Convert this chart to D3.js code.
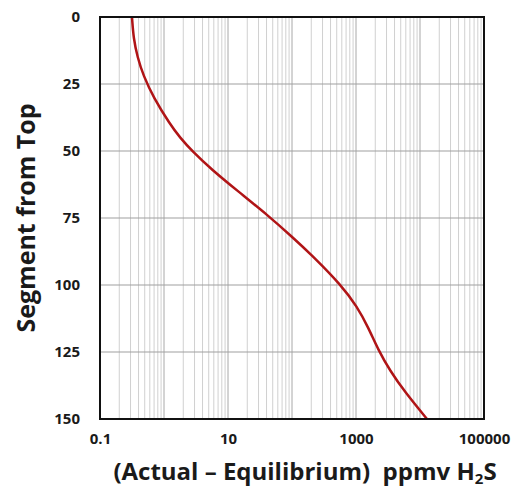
<!DOCTYPE html>
<html>
<head>
<meta charset="utf-8">
<script src="https://cdn.jsdelivr.net/npm/d3@7"></script>
<style>
    body { margin: 0; background: #fff; }
    text { font-family: "Open Sans", Lato, sans-serif; font-weight: bold; fill: #1a1a1a; }
</style>
</head>
<body>
<svg width="527" height="489"></svg>
<script>
var segments = [0, 8, 15, 22, 30, 40, 45, 50, 57, 65, 74, 82, 90, 100, 108, 116, 124, 132, 140, 150];
var ppmv = [0.316, 0.334, 0.385, 0.478, 0.685, 1.24, 1.78, 2.74, 5.6, 14.3, 42, 100, 229, 583, 1037, 1567, 2205, 3400, 5830, 12850];
var xTicks = [0.1, 10, 1000, 100000];
var yTicks = [0, 25, 50, 75, 100, 125, 150];

var svg = d3.select("svg");
var pLeft = 100, pRight = 484, pTop = 17, pBottom = 419;

var x = d3.scaleLog().domain([0.1, 100000]).range([pLeft, pRight]);
var y = d3.scaleLinear().domain([0, 150]).range([pTop, pBottom]);

// minor vertical grid (2..9 of each decade)
var minor = [];
for (var e = -1; e < 5; e++) {
    for (var m = 2; m <= 9; m++) minor.push(m * Math.pow(10, e));
}
svg.append("g").selectAll("line")
    .data(minor)
    .enter().append("line")
    .attr("x1", function (d) { return x(d); })
    .attr("x2", function (d) { return x(d); })
    .attr("y1", pTop).attr("y2", pBottom)
    .style("stroke", "#d0d0d0").style("stroke-width", 1);

// decade lines
svg.append("g").selectAll("line")
    .data([1, 10, 100, 1000, 10000])
    .enter().append("line")
    .attr("x1", function (d) { return x(d); })
    .attr("x2", function (d) { return x(d); })
    .attr("y1", pTop).attr("y2", pBottom)
    .style("stroke", "#a8a8a8").style("stroke-width", 1);

// horizontal grid
svg.append("g").selectAll("line")
    .data(yTicks.slice(1, -1))
    .enter().append("line")
    .attr("x1", pLeft).attr("x2", pRight)
    .attr("y1", function (d) { return y(d); })
    .attr("y2", function (d) { return y(d); })
    .style("stroke", "#a0a0a0").style("stroke-width", 1.2);

// curve
var pts = segments.map(function (s, i) { return [ppmv[i], s]; });
var line = d3.line()
    .x(function (d) { return x(d[0]); })
    .y(function (d) { return y(d[1]); })
    .curve(d3.curveBasis);
svg.append("path")
    .datum(pts)
    .attr("d", line)
    .style("fill", "none")
    .style("stroke", "#b01416")
    .style("stroke-width", 2.5);

// frame
svg.append("rect")
    .attr("x", pLeft).attr("y", pTop)
    .attr("width", pRight - pLeft).attr("height", pBottom - pTop)
    .style("fill", "none").style("stroke", "#111").style("stroke-width", 2);

// axes
var yAxis = d3.axisLeft(y).tickValues(yTicks).tickSize(0).tickPadding(20);
var gy = svg.append("g").attr("transform", "translate(" + pLeft + ",0)").call(yAxis);
gy.select(".domain").remove();
gy.selectAll("text").style("font-size", "15px").style("fill", "#1a1a1a");

var xAxis = d3.axisBottom(x).tickValues(xTicks).tickSize(0).tickPadding(14)
    .tickFormat(function (d) { return d < 1 ? "0.1" : String(d); });
var gx = svg.append("g").attr("transform", "translate(0," + pBottom + ")").call(xAxis);
gx.select(".domain").remove();
gx.selectAll("text").style("font-size", "15px").style("fill", "#1a1a1a");

// titles
svg.append("text")
    .attr("transform", "translate(35," + ((pTop + pBottom) / 2) + ") rotate(-90)")
    .attr("text-anchor", "middle")
    .style("font-size", "25px")
    .text("Segment from Top");

var xt = svg.append("text")
    .attr("x", 305).attr("y", 480)
    .attr("text-anchor", "middle")
    .style("font-size", "24px");
xt.append("tspan").text("(Actual \u2013 Equilibrium)\u00a0\u00a0ppmv H");
xt.append("tspan").attr("dy", 4).style("font-size", "15px").text("2");
xt.append("tspan").attr("dy", -4).text("S");
</script>
</body>
</html>
